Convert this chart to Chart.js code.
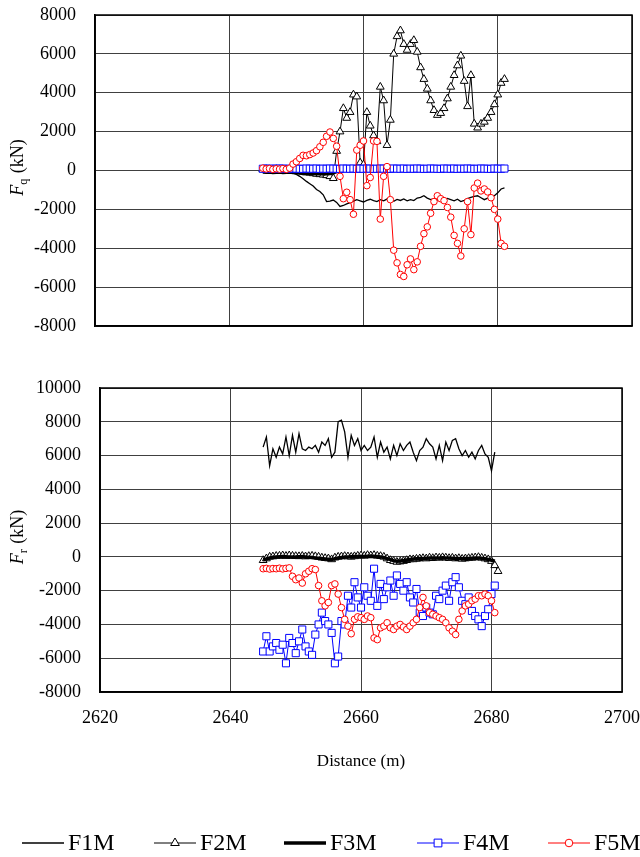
<!DOCTYPE html>
<html>
<head>
<meta charset="utf-8">
<script src="https://cdn.jsdelivr.net/npm/chart.js@4.4.1/dist/chart.umd.min.js"></script>
<style>
  html, body { margin: 0; padding: 0; background: #fff; }
  #wrap { position: relative; width: 640px; height: 857px; }
  .box { position: absolute; left: 0; width: 640px; }
  #topBox { top: 0; height: 340px; }
  #botBox { top: 340px; height: 517px; }
</style>
</head>
<body>
<div id="wrap">
  <div class="box" id="topBox"><canvas id="fq"></canvas></div>
  <div class="box" id="botBox"><canvas id="fr"></canvas></div>
</div>
<script>
// distance along the drive (m), every 0.5 m
const distance = [
  2645, 2645.5, 2646, 2646.5, 2647, 2647.5, 2648, 2648.5, 2649, 2649.5,
  2650, 2650.5, 2651, 2651.5, 2652, 2652.5, 2653, 2653.5, 2654, 2654.5,
  2655, 2655.5, 2656, 2656.5, 2657, 2657.5, 2658, 2658.5, 2659, 2659.5,
  2660, 2660.5, 2661, 2661.5, 2662, 2662.5, 2663, 2663.5, 2664, 2664.5,
  2665, 2665.5, 2666, 2666.5, 2667, 2667.5, 2668, 2668.5, 2669, 2669.5,
  2670, 2670.5, 2671, 2671.5, 2672, 2672.5, 2673, 2673.5, 2674, 2674.5,
  2675, 2675.5, 2676, 2676.5, 2677, 2677.5, 2678, 2678.5, 2679, 2679.5,
  2680, 2680.5, 2681
];

const seriesNames = ['F1M', 'F2M', 'F3M', 'F4M', 'F5M'];

// Fq (kN)
const fqF1M = [
  -20, -30, -20, -40, -30, -50, -40, -60, -80, -120,
  -200, -300, -420, -560, -680, -800, -980, -1080, -1250, -1600,
  -1580, -1520, -1640, -1850, -1800, -1720, -1650, -1580, -1500, -1560,
  -1620, -1540, -1480, -1550, -1600, -1500, -1560, -1470, -1530, -1580,
  -1490, -1540, -1460, -1560, -1500, -1550, -1420, -1380, -1300, -1420,
  -1500, -1450, -1530, -1470, -1520, -1440, -1500, -1560, -1480, -1600,
  -1540, -1450, -1380, -1330, -1300, -1400, -1500, -1420, -1380, -1300,
  -1150, -950, -900
];
const fqF2M = [
  50, 60, 40, 50, 60, 40, 50, 30, 40, 20,
  0, -30, -60, -100, -120, -150, -180, -200, -220, -250,
  -300, -400, 1000, 2000, 3200, 2700, 3000, 3900, 3800, 400,
  300, 3000, 2300, 1800, 1500, 4300, 3600, 1300, 2600, 6000,
  6900, 7200, 6500, 6200, 6500, 6700, 6100, 5300, 4700, 4200,
  3600, 3100, 2850, 2950, 3200, 3700, 4300, 4900, 5400, 5900,
  4600, 3300, 4900, 2400, 2200, 2400, 2500, 2700, 3000, 3400,
  3900, 4500, 4700
];
const fqF3M = [
  -80, -90, -80, -100, -90, -80, -100, -90, -80, -100,
  -120, -130, -150, -140, -160, -150, -170, -160, -180, -170,
  -150, -120, -60, -20, 0, 20, 30, 10, 40, 50,
  20, 30, 60, 40, 10, 30, 50, 20, 0, 30,
  40, 60, 30, 10, 40, 50, 20, 30, 60, 40,
  10, 20, 50, 40, 30, 10, 40, 60, 20, 30,
  50, 40, 10, 20, 40, 30, 60, 50, 20, 40,
  30, 50, 60
];
const fqF4M = [
  90, 100, 85, 95, 90, 100, 95, 85, 90, 100,
  95, 90, 85, 100, 95, 90, 100, 85, 95, 90,
  100, 95, 90, 85, 100, 95, 90, 100, 85, 95,
  90, 100, 95, 85, 90, 100, 95, 90, 85, 100,
  95, 90, 100, 85, 95, 90, 100, 95, 85, 90,
  100, 95, 90, 85, 100, 95, 90, 100, 85, 95,
  90, 100, 95, 85, 90, 100, 95, 90, 85, 100,
  95, 90, 100
];
const fqF5M = [
  120, 80, 100, 60, 90, 70, 100, 60, 120, 330,
  450, 620, 780, 760, 820, 900, 1020, 1220, 1450, 1760,
  1980, 1650, 1250, -300, -1450, -1120, -1500, -2250, 1050, 1300,
  1520, -780, -360, 1520, 1500, -2500, -300, 200, -1500, -4100,
  -4750, -5350, -5450, -4850, -4550, -5100, -4700, -3900, -3250, -2900,
  -2200, -1600, -1300, -1450, -1550, -1900, -2400, -3340, -3750, -4400,
  -3000, -1600, -3300, -900, -650, -1050, -950, -1100, -1400, -2000,
  -2500, -3750, -3900
];

// Fr (kN)
const frF1M = [
  6500, 7100, 5400, 6400, 5900, 6500, 6100, 7100, 6000, 7200,
  6200, 7300, 6400, 6300, 6500, 6400, 6600, 6200, 6800, 6600,
  7000, 5900, 6200, 8000, 8100, 7400, 5900, 7200, 6600, 7000,
  6300, 6600, 6300, 6500, 7100, 5900, 6800, 6200, 6500, 5800,
  6600, 6000, 6700, 6300, 6600, 6800, 6200, 5700, 6300, 6500,
  7000, 6700, 6500, 5800, 6600, 5700, 6800, 6300, 6900, 7000,
  6400, 6000, 6300, 5900, 6200, 5800, 6300, 6600, 6100, 5900,
  5100, 6200, null
];
const frF2M = [
  -200, -100, 0, 20, 50, 60, 80, 50, 80, 60,
  40, 30, 50, 20, 40, 60, 30, 0, -50, -80,
  -100, -150, -50, 0, 20, 40, 20, 0, 30, 60,
  80, 60, 100, 80, 100, 60, 40, 0, -100, -200,
  -250, -300, -280, -250, -200, -150, -150, -120, -100, -80,
  -100, -50, -80, -40, -60, -30, -50, -80, -60, -100,
  -80, -120, -100, -80, -60, -40, -20, -60, -100, -150,
  -250, -500, -850
];
const frF3M = [
  -150, -120, -60, -20, 0, 10, 20, 10, 0, -10,
  0, 10, 20, 0, -20, -40, -60, -80, -100, -120,
  -140, -160, -100, -60, -30, -10, 0, 10, 20, 30,
  40, 30, 40, 50, 40, 20, 0, -40, -100, -160,
  -220, -260, -240, -220, -180, -150, -130, -110, -100, -90,
  -80, -70, -60, -70, -60, -50, -60, -70, -80, -90,
  -100, -110, -100, -90, -80, -70, -60, -80, -110, -150,
  -200, -260, null
];
const frF4M = [
  -5600, -4700, -5600, -5300, -5100, -5500, -5200, -6300, -4800, -5100,
  -5700, -5000, -4300, -5300, -5600, -5800, -4600, -4000, -3300, -3800,
  -4000, -4500, -6300, -5900, -3800, -4000, -2300, -3000, -1500, -2400,
  -3000, -1800, -2300, -2600, -700, -2900, -1600, -2500, -1800, -1400,
  -2300, -1100, -1600, -2000, -1500, -2400, -2700, -1900, -3300, -3500,
  -3000, -3300, -3400, -2300, -2500, -2000, -1700, -2600, -1500, -1200,
  -1800, -2600, -2800, -2400, -3200, -3500, -3700, -4100, -3500, -3100,
  -2200, -1700, null
];
const frF5M = [
  -700, -680, -720, -690, -700, -670, -710, -680, -650, -1150,
  -1350, -1250, -1550, -1000, -850, -700, -750, -1700, -2600, -2900,
  -2700, -1700, -1600, -2200, -3000, -3700, -4100, -4550, -3700, -3550,
  -3600, -3700, -3500, -3600, -4800, -4900, -4200, -4100, -3900, -4200,
  -4300, -4100, -4000, -4150, -4300, -4100, -3900, -3700, -3000, -2400,
  -2900, -3300, -3400, -3500, -3600, -3700, -3900, -4200, -4400, -4600,
  -3700, -3200, -2900, -2800, -2600, -2500, -2300, -2300, -2200, -2300,
  -2600, -3300, null
];

const xTicks = [2620, 2640, 2660, 2680, 2700];
const fqTicks = [-8000, -6000, -4000, -2000, 0, 2000, 4000, 6000, 8000];
const frTicks = [-8000, -6000, -4000, -2000, 0, 2000, 4000, 6000, 8000, 10000];

const serif = "'Liberation Serif', 'Times New Roman', serif";
Chart.defaults.font.family = serif;
Chart.defaults.color = '#000';

// look of each series, Excel-like
const looks = [
  { borderColor: '#000', borderWidth: 1.3, pointRadius: 0 },
  { borderColor: '#000', borderWidth: 1, pointStyle: 'triangle', pointRadius: 4.5,
    pointBackgroundColor: '#fff', pointBorderColor: '#000', pointBorderWidth: 1 },
  { borderColor: '#000', borderWidth: 3.5, pointRadius: 0 },
  { borderColor: '#0000ff', borderWidth: 1, pointStyle: 'rect', pointRadius: 5,
    pointBackgroundColor: '#fff', pointBorderColor: '#0000ff', pointBorderWidth: 1 },
  { borderColor: '#ff0000', borderWidth: 1, pointStyle: 'circle', pointRadius: 3.3,
    pointBackgroundColor: '#fff', pointBorderColor: '#ff0000', pointBorderWidth: 1 }
];

function makeDatasets(valueLists) {
  return valueLists.map((vals, i) => Object.assign({
    label: seriesNames[i],
    data: distance.map((d, k) => ({ x: d, y: vals[k] })),
    order: 5 - i,
    tension: 0,
    fill: false
  }, looks[i]));
}

// chart area outline (top and right sides too)
const frame = {
  id: 'frame',
  afterDraw(chart) {
    const { ctx, chartArea: a } = chart;
    ctx.save();
    ctx.strokeStyle = '#000';
    ctx.lineWidth = 1.5;
    ctx.strokeRect(a.left, a.top, a.right - a.left, a.bottom - a.top);
    ctx.restore();
  }
};

// rotated y title with italic F and subscript
function yTitle(sub) {
  return {
    id: 'yTitle',
    afterDraw(chart) {
      const { ctx, chartArea: a } = chart;
      const parts = [
        ['F', 'italic 18px ' + serif, 0],
        [sub, '12px ' + serif, 4],
        [' (kN)', '18px ' + serif, 0]
      ];
      ctx.save();
      ctx.translate(17, (a.top + a.bottom) / 2 - 3);
      ctx.rotate(-Math.PI / 2);
      ctx.fillStyle = '#000';
      ctx.textBaseline = 'alphabetic';
      let total = 0;
      parts.forEach(p => { ctx.font = p[1]; total += ctx.measureText(p[0]).width + (p[2] ? 1 : 0); });
      let x = -total / 2;
      parts.forEach(p => {
        ctx.font = p[1];
        ctx.fillText(p[0], x, 6 + p[2]);
        x += ctx.measureText(p[0]).width + (p[2] ? 1 : 0);
      });
      ctx.restore();
    }
  };
}

// legend row under the lower chart
const legendRow = {
  id: 'legendRow',
  afterDraw(chart) {
    const { ctx } = chart;
    const starts = [22, 154, 284, 417, 548];
    const y = 503;
    ctx.save();
    chart.data.datasets.forEach((ds, i) => {
      const x0 = starts[i];
      ctx.strokeStyle = ds.borderColor;
      ctx.lineWidth = ds.borderWidth;
      ctx.beginPath();
      ctx.moveTo(x0, y);
      ctx.lineTo(x0 + 42, y);
      ctx.stroke();
      if (ds.pointRadius > 0) {
        ctx.fillStyle = ds.pointBackgroundColor;
        ctx.strokeStyle = ds.pointBorderColor;
        ctx.lineWidth = 1;
        Chart.helpers.drawPoint(ctx, {
          pointStyle: ds.pointStyle, radius: ds.pointRadius + 0.5, borderWidth: 1, rotation: 0
        }, x0 + 21, y);
      }
      ctx.fillStyle = '#000';
      ctx.font = '24px ' + serif;
      ctx.textBaseline = 'middle';
      ctx.fillText(ds.label, x0 + 46, y + 1);
    });
    ctx.restore();
  }
};

// label gaps come from invisible tick marks so the scales do not add extra edge padding
function makeOptions(o) {
  const tickFont = { size: 18, family: serif };
  return {
    responsive: true,
    maintainAspectRatio: false,
    animation: false,
    layout: { padding: o.padding },
    plugins: { legend: { display: false }, tooltip: { enabled: false } },
    scales: {
      x: {
        type: 'linear',
        min: xTicks[0],
        max: xTicks[xTicks.length - 1],
        afterBuildTicks: s => { s.ticks = xTicks.map(v => ({ value: v })); },
        ticks: {
          display: o.xLabels, padding: 0, font: tickFont, color: '#000',
          maxRotation: 0, autoSkip: false, callback: v => String(v)
        },
        grid: { color: '#404040', lineWidth: 1, drawTicks: true, tickLength: 15, tickColor: 'rgba(0,0,0,0)' },
        border: { color: '#000', width: 1.5 },
        title: {
          display: o.xLabels, text: 'Distance (m)', color: '#000',
          font: { size: 17, family: serif }, padding: { top: 4, bottom: 10 }
        },
        afterFit: s => { s.height = o.xHeight; }
      },
      y: {
        min: o.yTicks[0],
        max: o.yTicks[o.yTicks.length - 1],
        afterBuildTicks: s => { s.ticks = o.yTicks.map(v => ({ value: v })); },
        ticks: { padding: 0, font: tickFont, color: '#000', callback: v => String(v) },
        grid: { color: '#404040', lineWidth: 1, drawTicks: true, tickLength: 19, tickColor: 'rgba(0,0,0,0)' },
        border: { color: '#000', width: 1.5 },
        afterFit: s => { s.width = o.yWidth; }
      }
    }
  };
}

new Chart(document.getElementById('fq'), {
  type: 'line',
  data: { datasets: makeDatasets([fqF1M, fqF2M, fqF3M, fqF4M, fqF5M]) },
  options: makeOptions({
    padding: { top: 15, right: 8, left: 0, bottom: 0 },
    xLabels: false, xHeight: 14, yWidth: 95, yTicks: fqTicks
  }),
  plugins: [frame, yTitle('q')]
});

new Chart(document.getElementById('fr'), {
  type: 'line',
  data: { datasets: makeDatasets([frF1M, frF2M, frF3M, frF4M, frF5M]) },
  options: makeOptions({
    padding: { top: 48, right: 16, left: 0, bottom: 75 },
    xLabels: true, xHeight: 90, yWidth: 100, yTicks: frTicks
  }),
  plugins: [frame, yTitle('r'), legendRow]
});
</script>
</body>
</html>
